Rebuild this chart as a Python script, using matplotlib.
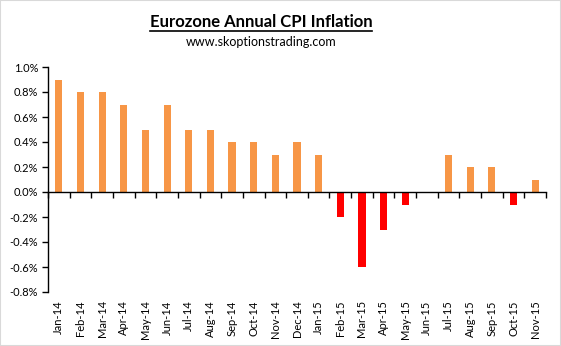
import matplotlib
matplotlib.use("Agg")
import matplotlib.pyplot as plt
from matplotlib.patches import Rectangle
from matplotlib.lines import Line2D
from matplotlib.ticker import FuncFormatter, FixedLocator

months = ["Jan-14", "Feb-14", "Mar-14", "Apr-14", "May-14", "Jun-14", "Jul-14", "Aug-14",
          "Sep-14", "Oct-14", "Nov-14", "Dec-14", "Jan-15", "Feb-15", "Mar-15", "Apr-15",
          "May-15", "Jun-15", "Jul-15", "Aug-15", "Sep-15", "Oct-15", "Nov-15"]
cpi = [0.9, 0.8, 0.8, 0.7, 0.5, 0.7, 0.5, 0.5, 0.4, 0.4, 0.3, 0.4, 0.3,
       -0.2, -0.6, -0.3, -0.1, 0.0, 0.3, 0.2, 0.2, -0.1, 0.1]
yticks = [-0.8, -0.6, -0.4, -0.2, 0.0, 0.2, 0.4, 0.6, 0.8, 1.0]

plt.rcParams['font.family'] = ['Lato', 'DejaVu Sans']

fig = plt.figure(figsize=(5.61, 3.46), dpi=100)
fig.patches.append(Rectangle((0, 0), 1, 1, transform=fig.transFigure, fill=False,
                             edgecolor='#D9D9D9', linewidth=1.5, zorder=10))
ax = fig.add_axes([48/561, 1-292/346, (546-48)/561, (292-67)/346])

x = list(range(len(months)))
colors = ['#F79646' if v >= 0 else '#FF0000' for v in cpi]
ax.bar(x, cpi, width=0.33, color=colors, zorder=2)

ax.set_xlim(-0.5, len(months) - 0.5)
ax.set_ylim(-0.8, 1.0)
ax.set_yticks(yticks)
ax.yaxis.set_major_formatter(FuncFormatter(lambda v, p: f"{v:.1f}%"))
ax.tick_params(axis='y', direction='out', length=4, width=1, labelsize=8, colors='black', pad=3)

for s in ['top', 'right']:
    ax.spines[s].set_visible(False)
ax.spines['bottom'].set_position(('data', 0))
ax.spines['left'].set_linewidth(1)
ax.spines['bottom'].set_linewidth(1)

ax.xaxis.set_major_locator(FixedLocator([i - 0.5 for i in range(len(months) + 1)]))
ax.xaxis.set_major_formatter(FuncFormatter(lambda v, p: ""))
ax.tick_params(axis='x', direction='out', length=4, width=1)

sec = ax.secondary_xaxis('bottom')
sec.set_xticks(x)
sec.set_xticklabels(months, rotation=90, fontsize=8)
sec.tick_params(length=0, pad=6)
sec.spines['bottom'].set_visible(False)

t = fig.text(261/561, 1-22/346, "Eurozone Annual CPI Inflation", ha='center', va='center',
             fontsize=12, fontweight='bold')
fig.text(261/561, 1-42/346, "www.skoptionstrading.com", ha='center', va='center', fontsize=9)

fig.canvas.draw()
bb = t.get_window_extent(fig.canvas.get_renderer()).transformed(fig.transFigure.inverted())
fig.add_artist(Line2D([bb.x0, bb.x1], [bb.y0 - 0.003, bb.y0 - 0.003], transform=fig.transFigure,
                      color='black', linewidth=1.2))

fig.savefig("out.png", dpi=100)
